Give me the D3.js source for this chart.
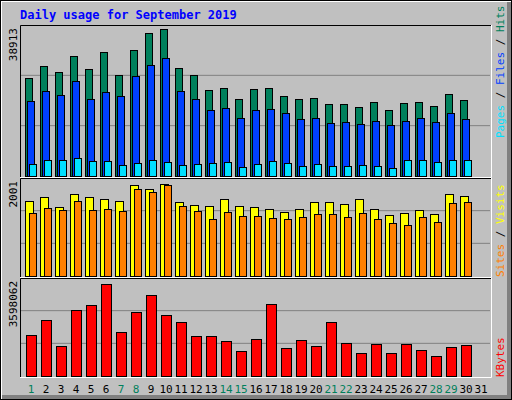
<!DOCTYPE html>
<html><head><meta charset="utf-8">
<script src="https://cdn.jsdelivr.net/npm/d3@7"></script>
<style>body{margin:0;background:#fff}svg{display:block}</style>
</head><body><svg width="512" height="400"></svg>
<script>
const days = d3.range(1, 32);
const weekend = [1, 7, 8, 14, 15, 21, 22, 28, 29];
const hits = [25940,29120,27530,31770,28320,32820,26740,33350,37850,38913,28590,26740,22760,23290,20380,23030,23290,21180,20380,20650,19060,19060,18270,19590,17470,19320,19590,18530,21710,20120];
const files = [19850,22500,21440,25150,20380,22230,21180,26470,29380,31230,22500,20380,17470,18000,15350,17470,17730,16680,15090,15350,14030,14290,13760,14560,13500,14560,15350,14290,16680,15090];
const pages = [3176,4235,4235,4765,3970,3970,2912,3441,4235,3706,2912,3176,3441,3706,2382,3176,3970,3441,2647,3176,2647,2647,2912,2647,2118,4235,4235,3706,4235,4235];
const visits = [1631,1718,1501,1784,1718,1675,1631,1979,1892,2001,1610,1544,1523,1675,1523,1501,1457,1392,1457,1610,1610,1566,1675,1457,1327,1370,1436,1349,1784,1740];
const sites = [1370,1479,1436,1631,1436,1457,1414,1892,1827,1979,1523,1414,1240,1392,1305,1305,1262,1240,1283,1349,1349,1283,1370,1240,1153,1109,1283,1175,1588,1610];
const kbytes = [1603500,2190200,1173300,2581300,2776800,3598062,1720800,2503000,3167900,2385700,2111900,1564400,1564400,1368900,977800,1447100,2815900,1095100,1408000,1173300,2111900,1290600,899500,1251500,899500,1251500,1016900,782200,1134200,1212400];

const svg = d3.select("svg");
const font = "'DejaVu Sans Mono', monospace";
const x = d3.scaleLinear().domain([1, 31]).range([25, 475]);

// background with bevel
svg.append("rect").attr("x", 0).attr("y", 0).attr("width", 512).attr("height", 400).attr("fill", "#000");
svg.append("rect").attr("x", 1).attr("y", 1).attr("width", 510).attr("height", 398).attr("fill", "#fff");
svg.append("rect").attr("x", 2).attr("y", 2).attr("width", 509).attr("height", 397).attr("fill", "#808080");
svg.append("rect").attr("x", 2).attr("y", 2).attr("width", 505).attr("height", 393).attr("fill", "#c0c0c0");

svg.append("text").attr("x", 20).attr("y", 19).attr("fill", "#0000ff")
  .attr("font-family", font).attr("font-weight", "bold").attr("font-size", 12)
  .text("Daily usage for September 2019");

const panels = [
  {top: 25, bottom: 177, plot0: 176, max: 38913, h: 147},
  {top: 178, bottom: 277, plot0: 276, max: 2001, h: 92},
  {top: 278, bottom: 377, plot0: 376, max: 3598062, h: 92}
];

panels.forEach(p => {
  p.y = d3.scaleLinear().domain([0, p.max]).range([p.plot0, p.plot0 - p.h]);
  const g = svg.append("g");
  const third = (p.plot0 - p.top) / 3;
  [1, 2].forEach(k => g.append("line").attr("x1", 21).attr("x2", 490)
    .attr("y1", p.plot0 - third * k).attr("y2", p.plot0 - third * k).attr("stroke", "#808080"));
  g.append("path").attr("d", `M20.5,${p.bottom}V${p.top + 0.5}H491`).attr("stroke", "#000").attr("fill", "none");
  g.append("path").attr("d", `M20,${p.bottom + 0.5}H491.5V${p.top}`).attr("stroke", "#fff").attr("fill", "none");
  svg.append("text").attr("transform", `translate(17,${p.top + 3}) rotate(-90)`)
    .attr("text-anchor", "end").attr("font-family", font).attr("font-size", 11)
    .text(d3.format("d")(p.max));
});

function bars(data, panel, dx, w, color) {
  const y = panels[panel].y;
  svg.append("g").selectAll("rect").data(data).join("rect")
    .attr("x", (d, i) => x(i + 1) + dx + 0.5)
    .attr("y", d => Math.round(y(d)) + 0.5)
    .attr("width", w)
    .attr("height", d => panels[panel].plot0 - Math.round(y(d)))
    .attr("fill", color).attr("stroke", "#000");
}
bars(hits, 0, 0, 7, "#00805c");
bars(files, 0, 2, 7, "#0040ff");
bars(pages, 0, 4, 7, "#00e0ff");
bars(visits, 1, 0, 8, "#ffff00");
bars(sites, 1, 4, 7, "#ff8000");
bars(kbytes, 2, 1, 10, "#ff0000");

// right legends
function legend(parts, yBottom) {
  const t = svg.append("text").attr("transform", `translate(504,${yBottom}) rotate(-90)`)
    .attr("font-family", font).attr("font-size", 11);
  parts.forEach(([s, c]) => t.append("tspan").attr("fill", c).text(s));
}
legend([["Pages", "#00e0ff"], [" / ", "#000"], ["Files", "#0040ff"], [" / ", "#000"], ["Hits", "#00805c"]], 138);
legend([["Sites", "#ff8000"], [" / ", "#000"], ["Visits", "#ffff00"]], 277);
legend([["KBytes", "#ff0000"]], 377);

svg.append("g").selectAll("text").data(days).join("text")
  .attr("x", d => x(d) + 6).attr("y", 393).attr("text-anchor", "middle")
  .attr("font-family", font).attr("font-size", 11)
  .attr("fill", d => weekend.includes(d) ? "#00805c" : "#000")
  .text(d => d);
</script></body></html>
